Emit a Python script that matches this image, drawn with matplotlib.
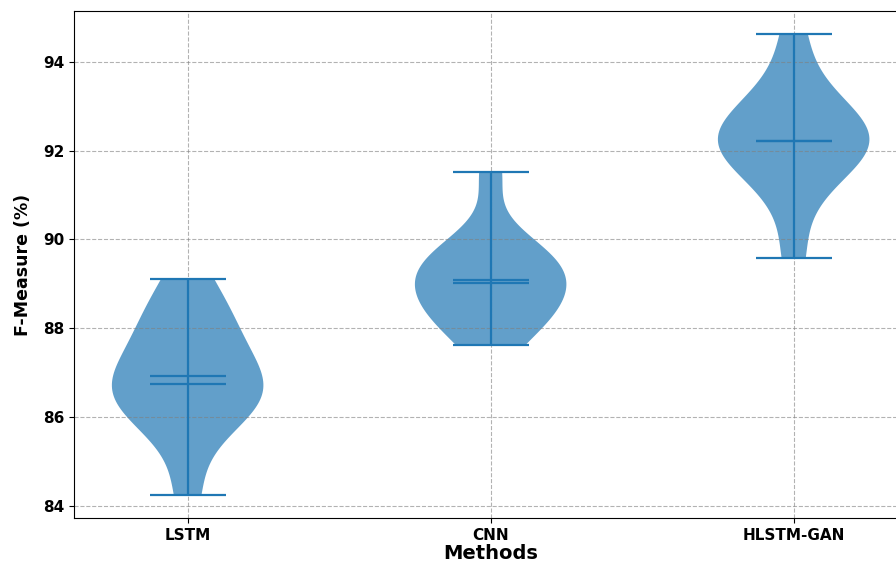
import numpy as np
import matplotlib.pyplot as plt

methods = ["LSTM", "CNN", "HLSTM-GAN"]

# F-measure (%) per run
lstm_scores = [84.25, 85.8, 86.2, 86.4, 86.5, 86.7, 86.8, 87.2, 87.7, 88.1, 88.4, 89.1]
cnn_scores = [87.62, 88.0, 88.3, 88.5, 88.7, 88.9, 89.16, 89.3, 89.5, 89.7, 89.9, 91.52]
hlstm_gan_scores = [89.58, 91.0, 91.6, 91.9, 92.1, 92.2, 92.24, 92.4, 92.6, 93.0, 93.4, 94.62]

data = [lstm_scores, cnn_scores, hlstm_gan_scores]
positions = np.arange(1, len(methods) + 1)

fig = plt.figure(figsize=(8.96, 5.62), dpi=100)
ax = fig.add_axes([0.0826, 0.0783, 0.930, 0.9021])

parts = ax.violinplot(data, positions=positions, showmeans=True, showmedians=True)
for body in parts["bodies"]:
    body.set_facecolor("#1f77b4")
    body.set_edgecolor("none")
    body.set_alpha(0.7)
for key in ["cmins", "cmaxes", "cbars", "cmeans", "cmedians"]:
    parts[key].set_color("#1f77b4")
    parts[key].set_linewidth(1.6)

ax.set_xticks(positions)
ax.set_xticklabels(methods, fontweight="bold", fontsize=11)
ax.set_yticks([84, 86, 88, 90, 92, 94])
for lbl in ax.get_yticklabels():
    lbl.set_fontweight("bold")
    lbl.set_fontsize(11)
ax.set_xlabel("Methods", fontweight="bold", fontsize=14, labelpad=1)
ax.set_ylabel("F-Measure (%)", fontweight="bold", fontsize=12.5, labelpad=8)
ax.grid(True, linestyle="--", color="gray", alpha=0.6, linewidth=0.8)

fig.savefig("out.png", dpi=100)
